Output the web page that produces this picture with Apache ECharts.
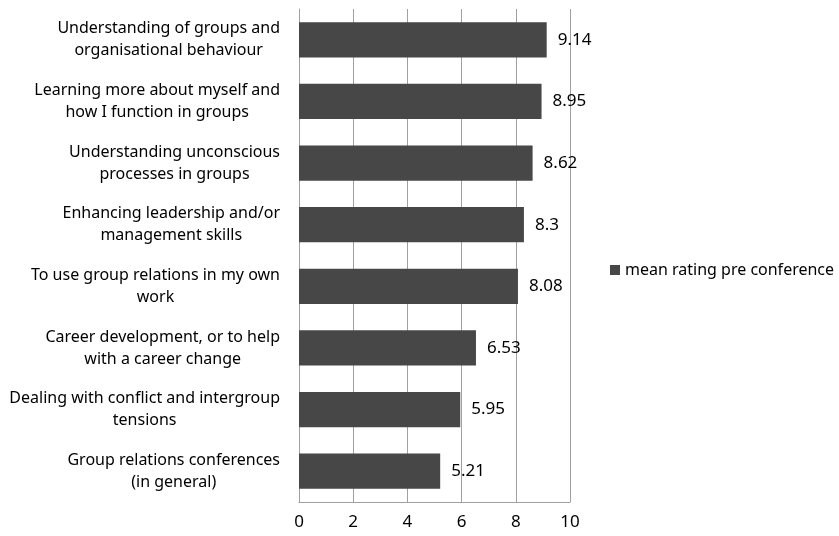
<!DOCTYPE html>
<html><head><meta charset="utf-8">
<script src="https://cdn.jsdelivr.net/npm/echarts@6/dist/echarts.min.js"></script>
<style>html,body{margin:0;padding:0;background:#fff}#c{width:839px;height:536px}</style>
</head><body><div id="c"></div>
<script>
const categories = [
  "Understanding of groups and\norganisational behaviour",
  "Learning more about myself and\nhow I function in groups",
  "Understanding unconscious\nprocesses in groups",
  "Enhancing leadership and/or\nmanagement skills",
  "To use group relations in my own\nwork",
  "Career development, or to help\nwith a career change",
  "Dealing with conflict and intergroup\ntensions",
  "Group relations conferences\n(in general)"
];
const values = [9.14, 8.95, 8.62, 8.3, 8.08, 6.53, 5.95, 5.21];
const seriesName = "mean rating pre conference";
const xTicks = [0, 2, 4, 6, 8, 10];

const FONT = "Noto Sans";
const chart = echarts.init(document.getElementById('c'), null, {renderer: 'canvas'});
chart.setOption({
  animation: false,
  textStyle: {fontFamily: FONT},
  grid: {left: 299, right: 269, top: 9, bottom: 34, containLabel: false},
  legend: {
    data: [seriesName], left: 605, top: 257, icon: 'rect', itemWidth: 10, itemHeight: 10, itemGap: 6,
    textStyle: {fontFamily: FONT, fontSize: 16, color: '#000'}
  },
  xAxis: {
    type: 'value', min: xTicks[0], max: xTicks[xTicks.length - 1], interval: 2,
    axisLine: {show: true, lineStyle: {color: '#a0a0a0'}},
    axisTick: {show: false},
    splitLine: {show: true, lineStyle: {color: '#a0a0a0', width: 1}},
    axisLabel: {color: '#000', fontSize: 17, margin: 12, fontFamily: FONT}
  },
  yAxis: {
    type: 'category', data: categories, inverse: true,
    axisLine: {show: true, lineStyle: {color: '#a0a0a0'}},
    axisTick: {show: false},
    axisLabel: {
      color: '#000', fontSize: 16, margin: 19, align: 'right', fontFamily: FONT,
      formatter: function (v) { return v.split('\n').map(s => '{c|' + s + '}').join('\n'); },
      rich: {c: {align: 'center', fontSize: 16, lineHeight: 22, color: '#000', fontFamily: FONT}}
    }
  },
  series: [{
    name: seriesName, type: 'bar', data: values, barCategoryGap: '43%',
    itemStyle: {color: '#474747'},
    label: {show: true, position: 'right', distance: 11, color: '#000', fontSize: 17, fontFamily: FONT}
  }]
});
</script></body></html>
